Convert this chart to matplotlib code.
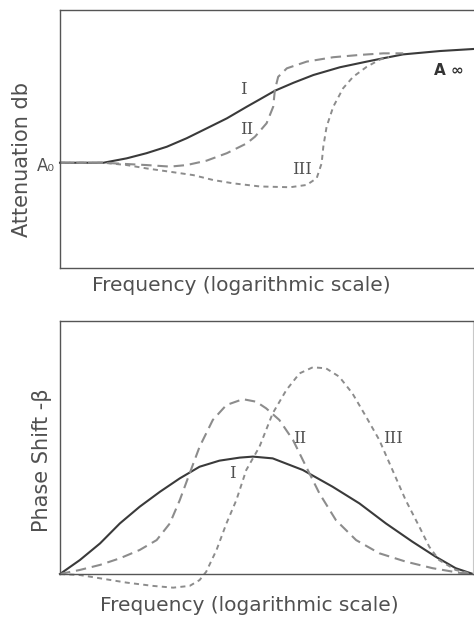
import matplotlib
matplotlib.use("Agg")
import matplotlib.pyplot as plt

# frequency axis: 0 = left spine, 100 = right edge (log scale, arbitrary units)
# attenuation (top) and phase shift (bottom) in arbitrary units, 0..100

att_I_x = [0, 10.5, 16.1, 20.9, 25.8, 30.6, 35.4, 40.3, 45.1, 48.3, 51.9, 56.4,
           61.2, 67.6, 74.1, 78.1, 82.9, 91.8, 100]
att_I_y = [40.8, 40.8, 42.5, 44.5, 47.0, 50.3, 54.1, 58.0, 62.5, 65.4, 68.7, 71.8,
           74.8, 77.8, 80.0, 81.3, 82.8, 84.1, 84.9]

att_II_x = [0, 10.5, 16.1, 20.9, 26.6, 30.6, 35.4, 40.3, 45.1, 47.1, 49.9, 51.5,
            51.9, 52.7, 54.8, 59.6, 66.0, 72.5, 78.1, 82.9]
att_II_y = [40.8, 40.8, 40.3, 39.9, 39.3, 39.9, 41.6, 44.5, 48.3, 50.9, 56.1, 62.5,
            69.0, 74.1, 77.4, 80.0, 81.7, 82.6, 83.2, 83.2]

att_III_x = [0, 10.5, 16.1, 20.9, 26.6, 32.2, 37.0, 41.9, 48.3, 55.6, 59.6, 62.0,
             63.2, 63.6, 64.4, 66.0, 68.4, 70.8, 74.1, 77.3, 79.5]
att_III_y = [40.8, 40.8, 39.9, 38.6, 37.3, 36.0, 34.1, 32.8, 31.6, 31.3, 32.2, 34.8,
             40.6, 47.0, 54.8, 62.5, 69.7, 74.1, 78.0, 80.8, 81.8]

ph_I_x = [0, 4.8, 9.7, 14.5, 19.3, 24.2, 29.0, 33.8, 38.6, 43.5, 46.7, 51.5,
          58.8, 66.0, 72.5, 78.9, 85.3, 91.0, 95.8, 100]
ph_I_y = [0, 5.5, 12.1, 20.0, 26.6, 32.5, 37.8, 42.4, 44.8, 46.0, 46.4, 45.7,
          41.1, 34.5, 27.9, 20.0, 12.8, 6.8, 2.3, 0]

ph_II_x = [0, 4.8, 9.7, 14.5, 19.3, 23.4, 26.6, 29.0, 31.4, 33.8, 37.0, 40.3, 44.3,
           47.5, 49.9, 53.1, 56.4, 59.6, 62.8, 66.8, 71.7, 77.3, 83.7, 90.2, 96.6, 100]
ph_II_y = [0, 1.6, 3.6, 6.2, 9.5, 13.4, 20.0, 29.2, 39.8, 50.3, 60.9, 66.8, 69.1,
           68.1, 65.5, 60.9, 53.0, 42.4, 31.9, 21.3, 13.4, 8.2, 4.9, 2.3, 0.5, 0]

ph_III_x = [0, 4.8, 9.7, 16.1, 22.5, 27.4, 31.4, 33.8, 35.4, 37.9, 40.3, 42.7, 45.1,
            48.3, 51.5, 54.8, 58.0, 61.2, 64.4, 67.6, 70.8, 74.1, 77.3, 80.5, 83.7,
            87.0, 89.4, 91.8, 95.8, 100]
ph_III_y = [0, -0.4, -1.7, -3.4, -4.7, -5.4, -4.7, -2.4, 0.9, 9.5, 20.0, 29.2, 41.1,
            50.3, 63.5, 72.7, 79.3, 81.7, 81.3, 78.0, 71.4, 62.2, 53.0, 41.1, 29.2,
            18.7, 10.8, 5.5, 1.6, 0]

INK = "#3a3a3a"
DASH = "#8c8c8c"
TXT = "#505050"
SANS = "DejaVu Sans"
SERIF = "DejaVu Serif"


def style_axes(ax, right_spine):
    ax.set_xlim(0, 100)
    ax.set_ylim(0, 100)
    ax.set_xticks([])
    ax.set_yticks([])
    for side in ["left", "bottom", "top"]:
        ax.spines[side].set_color("#555555")
        ax.spines[side].set_linewidth(1.0)
    ax.spines["right"].set_visible(right_spine)
    ax.spines["right"].set_color("#c8c8c8")


def draw_curves(ax, xs1, ys1, xs2, ys2, xs3, ys3):
    ax.plot(xs1, ys1, color=INK, lw=1.5, clip_on=False, solid_joinstyle="round")
    ax.plot(xs2, ys2, color=DASH, lw=1.5, dashes=(5, 2.8), clip_on=False)
    ax.plot(xs3, ys3, color=DASH, lw=1.4, dashes=(2.6, 2.2), clip_on=False)


fig = plt.figure(figsize=(4.74, 6.22), dpi=100)

# attenuation
ax1 = fig.add_axes([60 / 474, 354 / 622, 414 / 474, 258 / 622])
style_axes(ax1, False)
draw_curves(ax1, att_I_x, att_I_y, att_II_x, att_II_y, att_III_x, att_III_y)
ax1.text(44.2, 69.0, "I", family=SERIF, fontsize=12, color=TXT, ha="center", va="center")
ax1.text(45.1, 53.5, "II", family=SERIF, fontsize=12, color=TXT, ha="center", va="center")
ax1.text(58.4, 38.0, "III", family=SERIF, fontsize=12, color=TXT, ha="center", va="center")
ax1.text(94, 76.5, "A ∞", family=SANS, fontsize=11, weight="bold", color="#333333",
         ha="center", va="center")
ax1.text(-1.2, 39.5, "A₀", family=SANS, fontsize=12, color=TXT, ha="right", va="center")
ax1.set_ylabel("Attenuation db", family=SANS, fontsize=15, color=TXT, labelpad=20)
ax1.yaxis.label.set_position((0, 0.42))
ax1.set_xlabel("Frequency (logarithmic scale)", family=SANS, fontsize=14.5,
               color=TXT, labelpad=6)
ax1.xaxis.label.set_position((0.437, 0))

# phase shift
ax2 = fig.add_axes([60 / 474, 48 / 622, 413 / 474, 253 / 622])
style_axes(ax2, True)
draw_curves(ax2, ph_I_x, ph_I_y, ph_II_x, ph_II_y, ph_III_x, ph_III_y)
ax2.text(41.7, 39.8, "I", family=SERIF, fontsize=12, color=TXT, ha="center", va="center")
ax2.text(58.0, 53.6, "II", family=SERIF, fontsize=12, color=TXT, ha="center", va="center")
ax2.text(80.7, 53.6, "III", family=SERIF, fontsize=12, color=TXT, ha="center", va="center")
ax2.set_ylabel("Phase Shift -β", family=SANS, fontsize=15, color=TXT, labelpad=6)
ax2.yaxis.label.set_position((0, 0.45))
ax2.set_xlabel("Frequency (logarithmic scale)", family=SANS, fontsize=14.5,
               color=TXT, labelpad=16)
ax2.xaxis.label.set_position((0.459, 0))

fig.savefig("out.png", dpi=100, facecolor="white")
